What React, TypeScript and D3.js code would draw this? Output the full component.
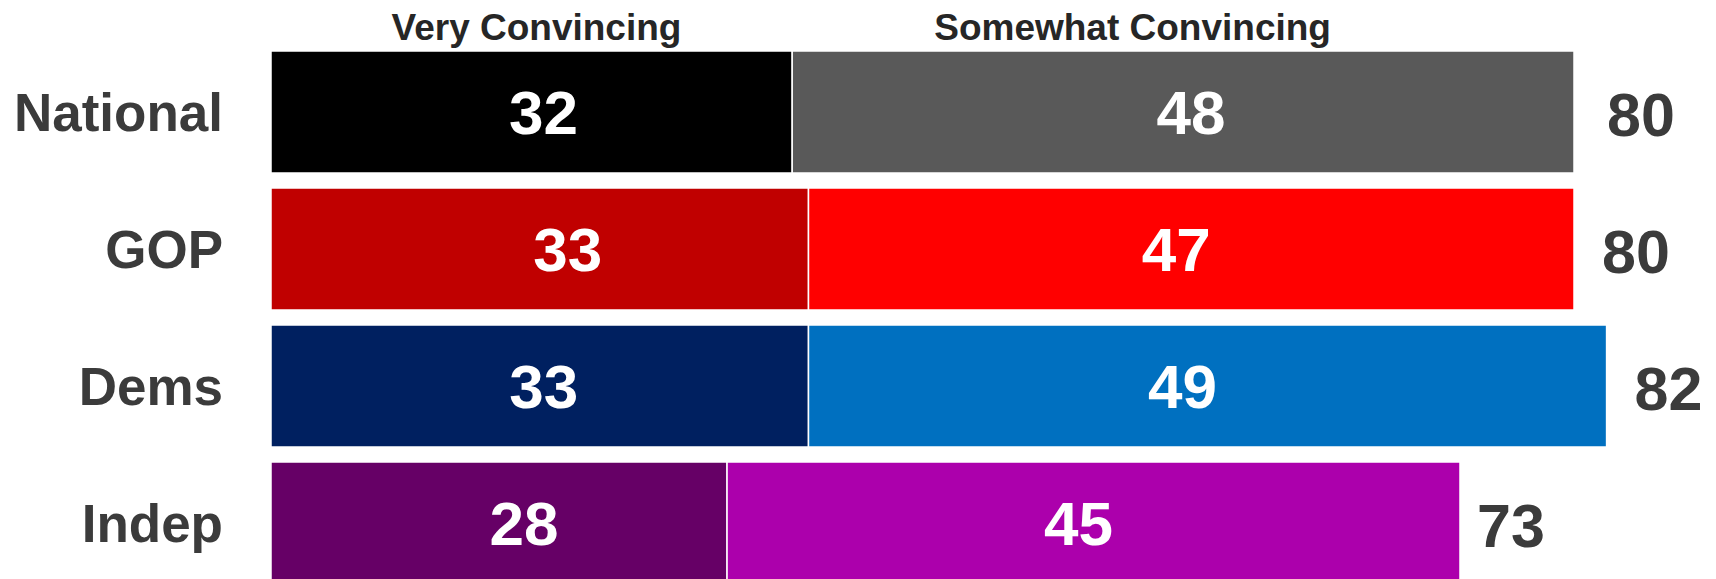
import { useEffect } from "react";
import * as d3 from "d3";

const categories = ["National", "GOP", "Dems", "Indep"];
const veryValues = [32, 33, 33, 28];
const somewhatValues = [48, 47, 49, 45];
const totals = [80, 80, 82, 73];
const veryColors = ["#000000", "#c00000", "#002060", "#660066"];
const somewhatColors = ["#595959", "#ff0000", "#0070c0", "#ac00ac"];
const headers = ["Very Convincing", "Somewhat Convincing"];

// hand-placed label nudges from the original slide (px)
const veryShift = [12, 28, 4, 25];
const somewhatShift = [8, -15, -25, -15];
const totalShift = [5, 0, 0, -11];

const width = 1716;
const height = 579;
const font = "'Liberation Sans', Arial, Helvetica, sans-serif";

export default function App() {
  useEffect(() => {
    document.body.style.margin = "0";
  }, []);

  const x = d3.scaleLinear().domain([0, 80]).range([271, 1574]);
  const y = d3
    .scaleBand<string>()
    .domain(categories)
    .range([51, 584])
    .paddingInner(0.1095)
    .paddingOuter(0);
  const bw = y.bandwidth();

  return (
    <svg width={width} height={height} style={{ display: "block" }}>
      {/* column headers */}
      <text x={x(16.3)} y={40} textAnchor="middle" fontFamily={font} fontWeight="bold" fontSize={37} fill="#262626">
        {headers[0]}
      </text>
      <text x={x(52.9)} y={40} textAnchor="middle" fontFamily={font} fontWeight="bold" fontSize={37} fill="#262626">
        {headers[1]}
      </text>

      {categories.map((c, i) => {
        const y0 = y(c)!;
        const cy = y0 + bw / 2;
        const v = veryValues[i];
        const s = somewhatValues[i];
        return (
          <g key={c}>
            <text x={223} y={cy + 19} textAnchor="end" fontFamily={font} fontWeight="bold" fontSize={53} fill="#3b3b3b">
              {c}
            </text>
            <rect x={x(0)} y={y0} width={x(v) - x(0)} height={bw} fill={veryColors[i]} stroke="#fff" strokeWidth={1.5} />
            <rect x={x(v)} y={y0} width={x(v + s) - x(v)} height={bw} fill={somewhatColors[i]} stroke="#fff" strokeWidth={1.5} />
            <text x={(x(0) + x(v)) / 2 + veryShift[i]} y={cy + 22} textAnchor="middle" fontFamily={font} fontWeight="bold" fontSize={62} fill="#fff">
              {v}
            </text>
            <text x={(x(v) + x(v + s)) / 2 + somewhatShift[i]} y={cy + 22} textAnchor="middle" fontFamily={font} fontWeight="bold" fontSize={62} fill="#fff">
              {s}
            </text>
            <text x={x(totals[i]) + 28 + totalShift[i]} y={cy + 24} textAnchor="start" fontFamily={font} fontWeight="bold" fontSize={61} fill="#3b3b3b">
              {totals[i]}
            </text>
          </g>
        );
      })}
    </svg>
  );
}
